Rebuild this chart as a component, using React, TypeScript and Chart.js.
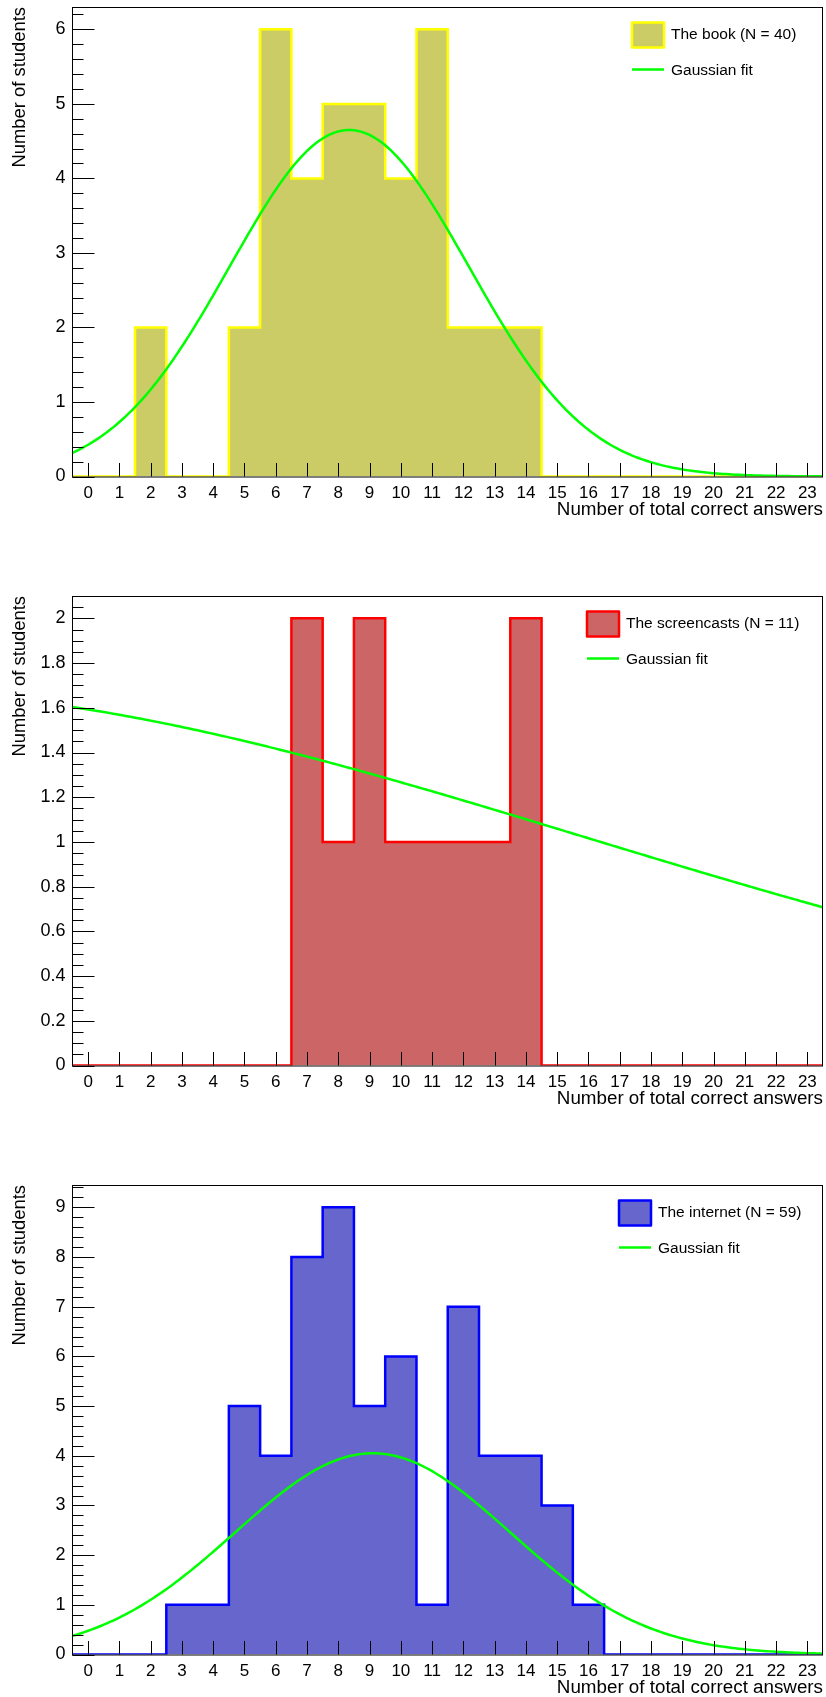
import React, { useEffect, useRef } from "react";
import { Chart, registerables } from "chart.js";

Chart.register(...registerables);

// ---- data -----------------------------------------------------------------

// Bin centres (number of total correct answers), one bin per integer.
const binCenters = [0, 1, 2, 3, 4, 5, 6, 7, 8, 9, 10, 11, 12, 13, 14, 15, 16, 17, 18, 19, 20, 21, 22, 23];
const xTickLabels = ["0", "1", "2", "3", "4", "5", "6", "7", "8", "9", "10", "11", "12", "13", "14", "15", "16", "17", "18", "19", "20", "21", "22", "23"];

// Students per bin for each source of preparation.
const bookCounts = [0, 0, 2, 0, 0, 2, 6, 4, 5, 5, 4, 6, 2, 2, 2, 0, 0, 0, 0, 0, 0, 0, 0, 0];
const screencastCounts = [0, 0, 0, 0, 0, 0, 0, 2, 1, 2, 1, 1, 1, 1, 2, 0, 0, 0, 0, 0, 0, 0, 0, 0];
const internetCounts = [0, 0, 0, 1, 1, 5, 4, 8, 9, 5, 6, 1, 7, 4, 4, 3, 1, 0, 0, 0, 0, 0, 0, 0];

// Gaussian fit parameters (constant, mean, sigma).
const bookFit = { amplitude: 4.65, mean: 8.35, sigma: 3.82 };
const screencastFit = { amplitude: 1.69, mean: -8.3, sigma: 24.1 };
const internetFit = { amplitude: 4.05, mean: 9.1, sigma: 4.4 };

// Y axis ticks.
const bookYTicks = [0, 1, 2, 3, 4, 5, 6];
const bookYTickLabels = ["0", "1", "2", "3", "4", "5", "6"];
const screencastYTicks = [0, 0.2, 0.4, 0.6, 0.8, 1, 1.2, 1.4, 1.6, 1.8, 2];
const screencastYTickLabels = ["0", "0.2", "0.4", "0.6", "0.8", "1", "1.2", "1.4", "1.6", "1.8", "2"];
const internetYTicks = [0, 1, 2, 3, 4, 5, 6, 7, 8, 9];
const internetYTickLabels = ["0", "1", "2", "3", "4", "5", "6", "7", "8", "9"];

const BIN_WIDTH = 1;
const X_MIN = -0.5;
const X_MAX = 23.5;

// ---- helpers ----------------------------------------------------------------

const FONT = "'Liberation Sans', Arial, Helvetica, sans-serif";

type Fit = { amplitude: number; mean: number; sigma: number };

// Step outline: one point on each bin's left edge, plus the closing right edge.
function histogramPoints(counts: number[]) {
  const pts = binCenters.map((c, i) => ({ x: c - BIN_WIDTH / 2, y: counts[i] }));
  const last = binCenters.length - 1;
  pts.push({ x: binCenters[last] + BIN_WIDTH / 2, y: counts[last] });
  return pts;
}

// Evaluates the fitted Gaussian finely enough to draw a smooth curve.
function fitCurve(fit: Fit) {
  const pts: { x: number; y: number }[] = [];
  const n = 240;
  for (let i = 0; i <= n; i++) {
    const x = X_MIN + ((X_MAX - X_MIN) * i) / n;
    const z = (x - fit.mean) / fit.sigma;
    pts.push({ x, y: fit.amplitude * Math.exp(-0.5 * z * z) });
  }
  return pts;
}

// Frame and inward-pointing ticks drawn over the plotted data.
const framePlugin = {
  id: "histFrame",
  afterDatasetsDraw(chart: any, _args: any, opts: any) {
    const { ctx, chartArea: a, scales } = chart;
    const x = scales.x;
    const y = scales.y;
    ctx.save();
    ctx.strokeStyle = "#000";
    ctx.lineWidth = 1;
    ctx.beginPath();
    for (const t of x.ticks) {
      const px = Math.round(x.getPixelForValue(t.value)) + 0.5;
      ctx.moveTo(px, a.bottom);
      ctx.lineTo(px, a.bottom - 13.5);
    }
    const majors: number[] = y.ticks.map((t: any) => t.value);
    for (const v of majors) {
      const py = Math.round(y.getPixelForValue(v)) + 0.5;
      ctx.moveTo(a.left, py);
      ctx.lineTo(a.left + 22, py);
    }
    const step = opts.minorStep as number;
    for (let k = 0; k * step <= y.max + 1e-9; k++) {
      const v = k * step;
      if (majors.some((m) => Math.abs(m - v) < 1e-9)) continue;
      const py = Math.round(y.getPixelForValue(v)) + 0.5;
      ctx.moveTo(a.left, py);
      ctx.lineTo(a.left + 11, py);
    }
    ctx.stroke();
    ctx.strokeRect(a.left, a.top + 0.5, a.right - a.left - 0.5, a.bottom - a.top);
    ctx.restore();
  },
};

// Legend: filled box for the histogram, line sample for the fit.
const legendPlugin = {
  id: "histLegend",
  afterDraw(chart: any, _args: any, opts: any) {
    const { ctx, chartArea: a } = chart;
    const hist = chart.data.datasets[0];
    const fit = chart.data.datasets[1];
    const bx = opts.left as number;
    const bw = 32;
    const bh = 25;
    const by = a.top + 15.5;
    ctx.save();
    ctx.fillStyle = hist.backgroundColor;
    ctx.fillRect(bx, by, bw, bh);
    ctx.strokeStyle = hist.borderColor;
    ctx.lineWidth = 2.5;
    ctx.lineJoin = "round";
    ctx.strokeRect(bx, by, bw, bh);
    const ly = a.top + 62.5;
    ctx.strokeStyle = fit.borderColor;
    ctx.lineWidth = 2.5;
    ctx.beginPath();
    ctx.moveTo(bx, ly);
    ctx.lineTo(bx + bw, ly);
    ctx.stroke();
    ctx.fillStyle = "#000";
    ctx.font = `15.5px ${FONT}`;
    ctx.textAlign = "left";
    ctx.textBaseline = "middle";
    ctx.fillText(hist.label, bx + bw + 7, by + bh / 2);
    ctx.fillText(fit.label, bx + bw + 7, ly + 1);
    ctx.restore();
  },
};

type PanelSpec = {
  label: string;
  counts: number[];
  fit: Fit;
  fill: string;
  line: string;
  yMax: number;
  yTicks: number[];
  yTickLabels: string[];
  minorStep: number;
  legendLeft: number;
};

const panels: PanelSpec[] = [
  {
    label: "The book (N = 40)",
    counts: bookCounts,
    fit: bookFit,
    fill: "#cccc66",
    line: "#ffff00",
    yMax: 6.3,
    yTicks: bookYTicks,
    yTickLabels: bookYTickLabels,
    minorStep: 0.2,
    legendLeft: 632,
  },
  {
    label: "The screencasts (N = 11)",
    counts: screencastCounts,
    fit: screencastFit,
    fill: "#cc6666",
    line: "#ff0000",
    yMax: 2.1,
    yTicks: screencastYTicks,
    yTickLabels: screencastYTickLabels,
    minorStep: 0.05,
    legendLeft: 587,
  },
  {
    label: "The internet (N = 59)",
    counts: internetCounts,
    fit: internetFit,
    fill: "#6666cc",
    line: "#0000ff",
    yMax: 9.45,
    yTicks: internetYTicks,
    yTickLabels: internetYTickLabels,
    minorStep: 0.2,
    legendLeft: 619,
  },
];

const PANEL_W = 826;
const PANEL_H = 589;

function HistogramPanel({ spec, top }: { spec: PanelSpec; top: number }) {
  const ref = useRef<HTMLCanvasElement>(null);

  useEffect(() => {
    if (!ref.current) return;
    const chart = new Chart(ref.current, {
      type: "line",
      data: {
        datasets: [
          {
            label: spec.label,
            data: histogramPoints(spec.counts),
            stepped: "before",
            fill: "origin",
            backgroundColor: spec.fill,
            borderColor: spec.line,
            borderWidth: 2.5,
            borderJoinStyle: "miter",
            pointRadius: 0,
            order: 2,
          },
          {
            label: "Gaussian fit",
            data: fitCurve(spec.fit),
            fill: false,
            borderColor: "#00ff00",
            borderWidth: 2.5,
            pointRadius: 0,
            tension: 0,
            order: 1,
          },
        ],
      } as any,
      options: {
        animation: false,
        responsive: false,
        events: [],
        layout: { padding: { left: 0, right: 3, top: 7, bottom: 62.5 } },
        plugins: {
          legend: { display: false },
          tooltip: { enabled: false },
          histFrame: { minorStep: spec.minorStep },
          histLegend: { left: spec.legendLeft },
        } as any,
        scales: {
          x: {
            type: "linear",
            min: X_MIN,
            max: X_MAX,
            afterBuildTicks: (s: any) => {
              s.ticks = binCenters.map((v) => ({ value: v }));
            },
            afterFit: (s: any) => {
              s.height = 50;
              s.paddingLeft = 0;
              s.paddingRight = 0;
            },
            ticks: {
              callback: (_v: any, i: number) => xTickLabels[i],
              font: { family: FONT, size: 17 },
              color: "#000",
              padding: 7,
              maxRotation: 0,
              autoSkip: false,
            },
            grid: { display: false, drawTicks: false },
            border: { display: false },
            title: {
              display: true,
              text: "Number of total correct answers",
              align: "end",
              color: "#000",
              font: { family: FONT, size: 18.8 },
              padding: { top: 0, bottom: 5 },
            },
          },
          y: {
            type: "linear",
            min: 0,
            max: spec.yMax,
            afterBuildTicks: (s: any) => {
              s.ticks = spec.yTicks.map((v) => ({ value: v }));
            },
            afterFit: (s: any) => {
              s.width = 72.5;
              s.paddingTop = 0;
              s.paddingBottom = 0;
            },
            ticks: {
              callback: (_v: any, i: number) => spec.yTickLabels[i],
              font: { family: FONT, size: 18 },
              color: "#000",
              padding: 7,
              autoSkip: false,
            },
            grid: { display: false, drawTicks: false },
            border: { display: false },
            title: {
              display: true,
              text: "Number of students",
              align: "end",
              color: "#000",
              font: { family: FONT, size: 18.4 },
              padding: { top: 8.9, bottom: 0 },
            },
          },
        } as any,
      },
      plugins: [framePlugin, legendPlugin],
    });
    return () => chart.destroy();
  }, [spec]);

  return (
    <canvas
      ref={ref}
      width={PANEL_W}
      height={PANEL_H}
      style={{ position: "absolute", left: 0, top, width: PANEL_W, height: PANEL_H, display: "block" }}
    />
  );
}

export default function App() {
  return (
    <div
      style={{
        position: "absolute",
        left: 0,
        top: 0,
        width: 826,
        height: 1697,
        overflow: "hidden",
        background: "#fff",
      }}
    >
      {panels.map((p, i) => (
        <HistogramPanel key={p.label} spec={p} top={i * PANEL_H} />
      ))}
    </div>
  );
}
